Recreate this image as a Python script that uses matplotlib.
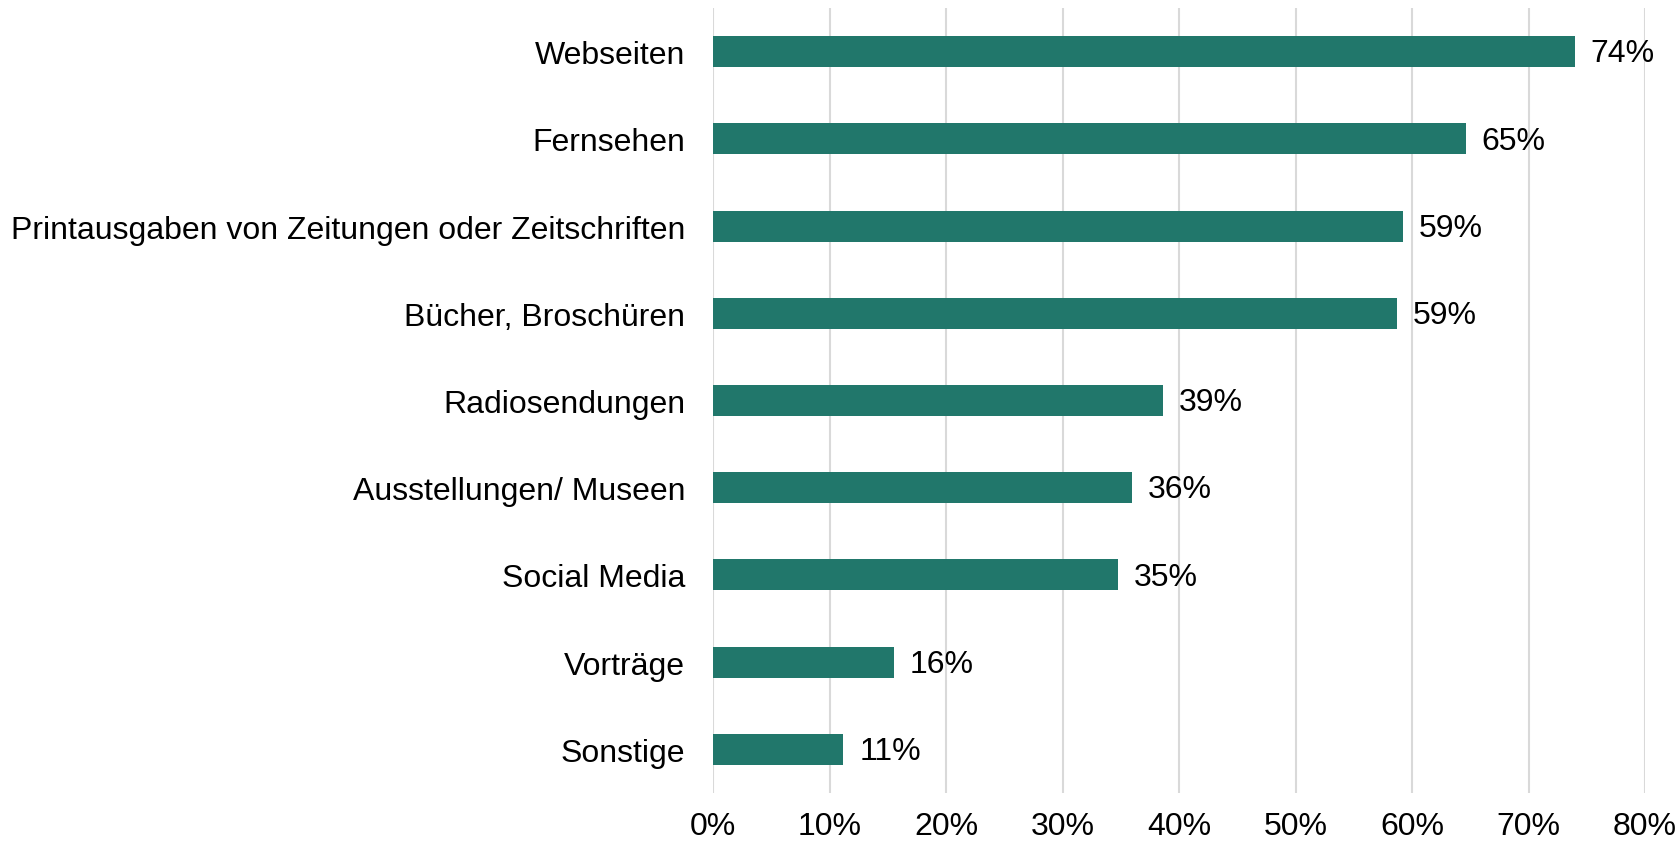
import matplotlib
matplotlib.use("Agg")
import matplotlib.pyplot as plt
from matplotlib.ticker import FuncFormatter

categories = ["Webseiten", "Fernsehen", "Printausgaben von Zeitungen oder Zeitschriften",
              "Bücher, Broschüren", "Radiosendungen", "Ausstellungen/ Museen",
              "Social Media", "Vorträge", "Sonstige"]
values = [74.0, 64.6, 59.2, 58.7, 38.6, 36.0, 34.8, 15.5, 11.2]
labels = ["74%", "65%", "59%", "59%", "39%", "36%", "35%", "16%", "11%"]
xticks = [0, 10, 20, 30, 40, 50, 60, 70, 80]

plt.rcParams['font.family'] = ['Liberation Sans', 'DejaVu Sans']

fig = plt.figure(figsize=(16.77, 8.45), dpi=100)
ax = fig.add_axes([713/1677, 1-794/845, (1645-713)/1677, (794-9)/845])

color = "#21776B"
ypos = list(range(len(categories)))
ax.barh(ypos, values, height=0.355, color=color, zorder=3)
fs = 23
for y, v, l in zip(ypos, values, labels):
    ax.text(v + 1.35, y + 0.02, l, va='center', ha='left', fontsize=fs, color='black')

ax.set_yticks(ypos)
ax.set_yticklabels(categories, fontsize=fs)
ax.set_ylim(len(categories) - 0.5, -0.5)
ax.set_xlim(0, 80)
ax.set_xticks(xticks)
ax.xaxis.set_major_formatter(FuncFormatter(lambda x, p: f"{int(x)}%"))
ax.tick_params(axis='x', labelsize=fs, length=0, pad=13)
ax.tick_params(axis='y', length=0, pad=20)
ax.grid(axis='x', color='#D9D9D9', linewidth=1.5, zorder=0)
for s in ax.spines.values():
    s.set_visible(False)

fig.savefig("out.png", dpi=100)
